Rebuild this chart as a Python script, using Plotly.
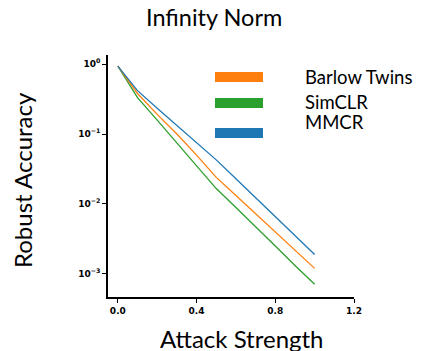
import plotly.graph_objects as go

attack_strength = [0.0, 0.05, 0.1, 0.2, 0.3, 0.4, 0.5, 0.6, 0.7, 0.8, 0.9, 1.0]
mmcr = [0.933, 0.631, 0.417, 0.234, 0.132, 0.0759, 0.0427, 0.0229, 0.0123, 0.0066, 0.00355, 0.0019]
barlow = [0.933, 0.603, 0.380, 0.191, 0.100, 0.050, 0.024, 0.0132, 0.00724, 0.00398, 0.00219, 0.0012]
simclr = [0.933, 0.562, 0.331, 0.158, 0.0741, 0.0355, 0.0166, 0.0089, 0.00479, 0.00251, 0.00132, 0.00071]

series_names = ["Barlow Twins", "SimCLR", "MMCR"]
series_colors = ["#ff7f0e", "#2ca02c", "#1f77b4"]
x_ticks = [0.0, 0.4, 0.8, 1.2]
x_tick_labels = ["0.0", "0.4", "0.8", "1.2"]
y_ticks = [1, 0.1, 0.01, 0.001]
y_tick_labels = ["10<sup>0</sup>", "10<sup>−1</sup>", "10<sup>−2</sup>", "10<sup>−3</sup>"]

fig = go.Figure()
for name, ys, col in [("SimCLR", simclr, series_colors[1]),
                      ("Barlow Twins", barlow, series_colors[0]),
                      ("MMCR", mmcr, series_colors[2])]:
    fig.add_trace(go.Scatter(x=attack_strength, y=ys, mode="lines", name=name,
                             line=dict(color=col, width=1.3), showlegend=False))

# page body has an 8px margin; size the figure so it ends at the window edge
OFF = 8
W, H = 425 - OFF, 351 - OFF
L, R, T, B = 108 - OFF, 354 - OFF, 55 - OFF, 297 - OFF

def px(x):
    return (x - OFF - L) / (R - L)

def py(y):
    return (B - (y - OFF)) / (B - T)

text_font = "Lato, Open Sans, sans-serif"

annotations = [
    dict(text="Infinity Norm", x=px(214), y=py(17), xref="paper", yref="paper",
         showarrow=False, font=dict(family=text_font, size=23.5, color="black"),
         xanchor="center", yanchor="middle"),
    dict(text="Robust Accuracy", x=px(22), y=py(180), xref="paper", yref="paper",
         showarrow=False, textangle=-90, font=dict(family=text_font, size=24, color="black"),
         xanchor="center", yanchor="middle"),
    dict(text="Attack Strength", x=px(242), y=py(338), xref="paper", yref="paper",
         showarrow=False, font=dict(family=text_font, size=24, color="black"),
         xanchor="center", yanchor="middle"),
]
shapes = []
patch_y = [77, 103, 133]
text_y = [76.5, 101.5, 121.5]
for name, col, pyy, ty in zip(series_names, series_colors, patch_y, text_y):
    shapes.append(dict(type="rect", xref="paper", yref="paper",
                       x0=px(215), x1=px(263), y0=py(pyy + 5), y1=py(pyy - 5),
                       fillcolor=col, line=dict(width=0)))
    annotations.append(dict(text=name, x=px(303), y=py(ty), xref="paper", yref="paper",
                            showarrow=False, font=dict(family=text_font, size=18.5, color="black"),
                            xanchor="left", yanchor="middle"))

fig.update_layout(
    width=W, height=H,
    margin=dict(l=L, r=W - R, t=T, b=H - B, pad=0),
    paper_bgcolor="white", plot_bgcolor="white",
    annotations=annotations, shapes=shapes,
    xaxis=dict(range=[-0.05, 1.2], tickvals=x_ticks, ticktext=x_tick_labels,
               showgrid=False, zeroline=False, showline=True, linecolor="black", linewidth=1.5,
               ticks="outside", ticklen=4, tickwidth=1.2, tickcolor="black",
               tickfont=dict(family="DejaVu Sans", size=9, color="black", weight="bold")),
    yaxis=dict(type="log", range=[-3.33, 0.13], tickvals=y_ticks, ticktext=y_tick_labels,
               showgrid=False, zeroline=False, showline=True, linecolor="black", linewidth=1.5,
               ticks="outside", ticklen=4, tickwidth=1.2, tickcolor="black",
               tickfont=dict(family="DejaVu Sans", size=9, color="black", weight="bold")),
)

fig.write_html("out.html")
